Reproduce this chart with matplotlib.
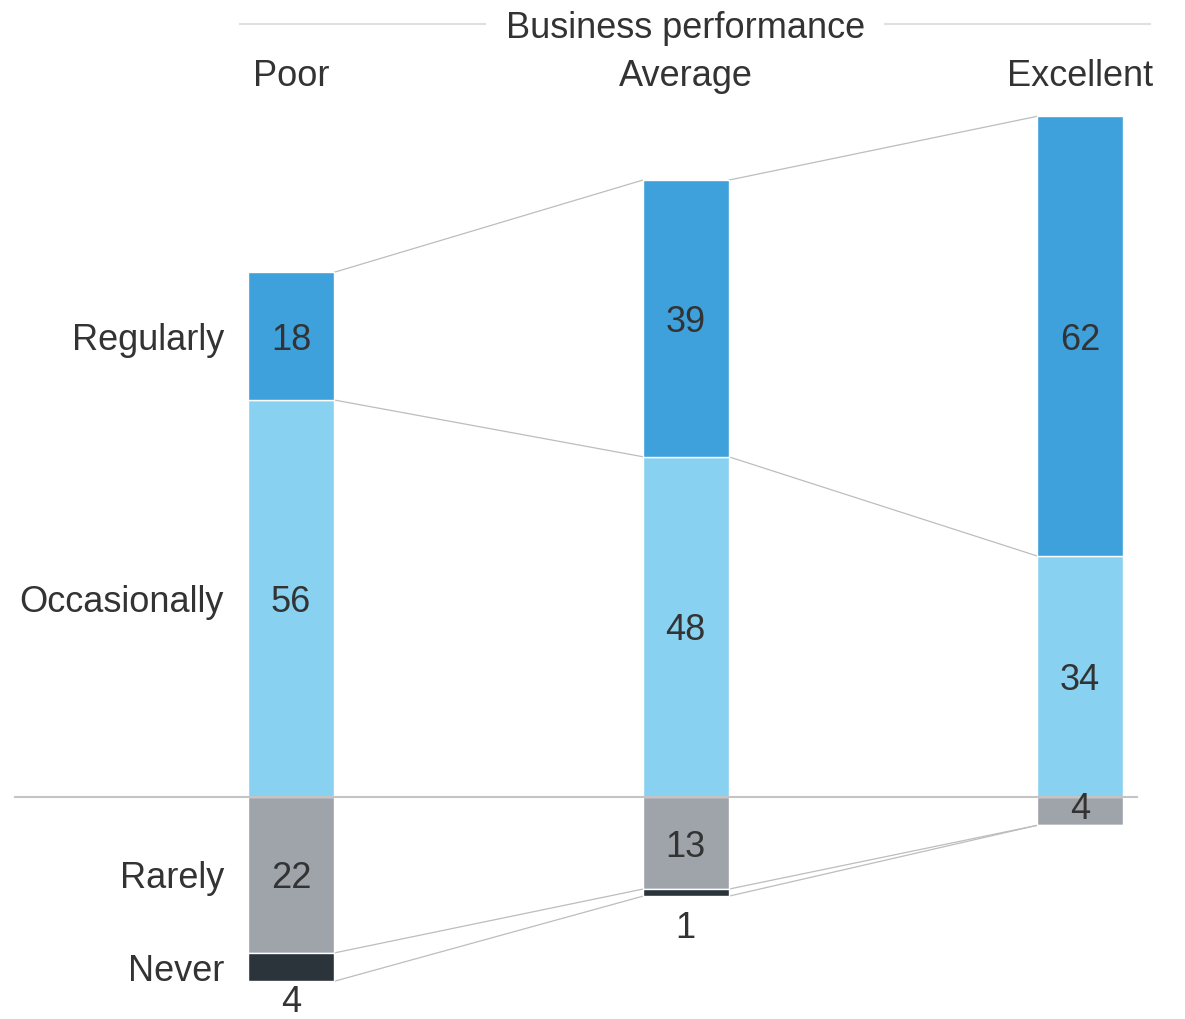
import numpy as np
import matplotlib.pyplot as plt
import matplotlib.transforms as mtransforms

plt.rcParams['font.family'] = ['Liberation Sans', 'DejaVu Sans']

# Дані
groups = ["Poor", "Average", "Excellent"]
regularly = [18, 39, 62]
occasionally = [56, 48, 34]
rarely = [22, 13, 4]
never = [4, 1, 0]
row_labels = ["Regularly", "Occasionally", "Rarely", "Never"]

c_reg = "#3ea1db"
c_occ = "#88d1f0"
c_rar = "#9ea4aa"
c_nev = "#2b333b"
txt = "#333333"
line_c = "#bdbdbd"

W, H = 1185, 1019
fig = plt.figure(figsize=(W / 100, H / 100), dpi=100)
ax = fig.add_axes([0, 0, 1, 1])

# пікселі -> одиниці даних
px_per_unit = 7.09
px_per_x = 394.5
base_px = 797
ax.set_ylim(-(H - base_px) / px_per_unit, base_px / px_per_unit)
ax.set_xlim(-291 / px_per_x, 2 + (W - 1080) / px_per_x)
ax.axis("off")

x = np.arange(len(groups))
bw = 86 / px_per_x
reg = np.array(regularly)
occ = np.array(occasionally)
rar = np.array(rarely)
nev = np.array(never)

kw = dict(width=bw, edgecolor="white", linewidth=1.0, zorder=3)
ax.bar(x, occ, color=c_occ, **kw)
ax.bar(x, reg, bottom=occ, color=c_reg, **kw)
ax.bar(x, -rar, color=c_rar, **kw)
ax.bar(x, -nev, bottom=-rar, color=c_nev, **kw)

# базова лінія
ax.plot([15 / W, 1137 / W], [0, 0], color="#c4c4c4", lw=1.5, zorder=4,
        transform=mtransforms.blended_transform_factory(ax.transAxes, ax.transData))

# з'єднувальні лінії
levels = [occ + reg, occ, -rar, -(rar + nev)]
for lv in levels:
    for i in range(len(x) - 1):
        ax.plot([x[i] + bw / 2, x[i + 1] - bw / 2], [lv[i], lv[i + 1]],
                color=line_c, lw=0.9, zorder=2)

# підписи значень
fs = 26
tk = dict(ha="center", va="center_baseline", fontsize=fs, color=txt, zorder=5)
for i in range(len(x)):
    ax.text(x[i], occ[i] + reg[i] / 2, str(reg[i]), **tk)
    ax.text(x[i], occ[i] / 2, str(occ[i]), **tk)
    if rar[i] >= 5:
        ax.text(x[i], -rar[i] / 2, str(rar[i]), **tk)
    else:
        ax.text(x[i], -rar[i] / 2 + 0.8, str(rar[i]), **tk)
    if nev[i] > 0:
        off = -12 if i == 0 else -20
        ax.annotate(str(nev[i]), (x[i], -(rar[i] + nev[i])), xytext=(0, off),
                    textcoords="offset points", **tk)

# підписи рядків
lx = x[0] - bw / 2 - 24 / px_per_x
ys = [occ[0] + reg[0] / 2, occ[0] / 2, -rar[0] / 2, -rar[0] - nev[0] / 2]
for lab, yv in zip(row_labels, ys):
    ax.text(lx, yv, lab, ha="right", va="center_baseline", fontsize=fs, color=txt)

# заголовок
top = mtransforms.blended_transform_factory(ax.transData, ax.transAxes)
for gx, g in zip(x, groups):
    ax.text(gx, 1 - 72 / H, g, ha="center", va="center_baseline", fontsize=fs,
            color=txt, transform=top)
ax.text(686 / W, 1 - 24 / H, "Business performance", ha="center",
        va="center_baseline", fontsize=fs, color=txt, transform=ax.transAxes)
ax.plot([240 / W, 485 / W], [1 - 24 / H] * 2, color="#e0e0e0", lw=1.5,
        transform=ax.transAxes)
ax.plot([885 / W, 1150 / W], [1 - 24 / H] * 2, color="#e0e0e0", lw=1.5,
        transform=ax.transAxes)

fig.savefig("out.png", dpi=100)
